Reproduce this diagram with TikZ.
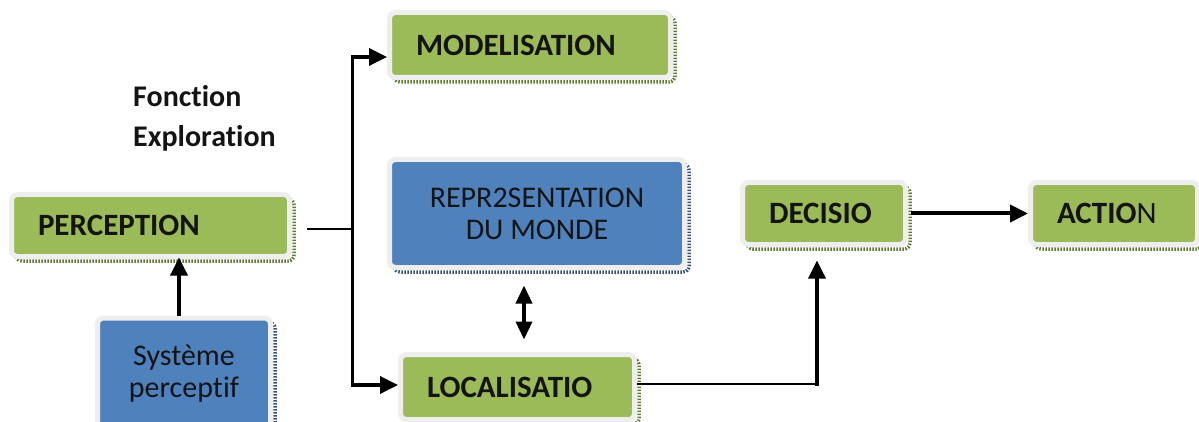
\documentclass[tikz,border=0pt]{standalone}
\usepackage{fontspec}
\setmainfont{Carlito}[Ligatures={NoCommon}]
\usetikzlibrary{arrows.meta}
\definecolor{boxgreen}{HTML}{9BBB59}
\definecolor{boxblue}{HTML}{4F81BD}
\definecolor{framegray}{HTML}{EEEEEE}
\definecolor{shadegreen}{HTML}{5E7A2E}
\definecolor{shadeblue}{HTML}{34507A}
\definecolor{ink}{HTML}{141414}

\begin{document}
\begin{tikzpicture}[x=1pt,y=-1pt,
  boxbase/.style={rectangle, rounded corners=6pt, draw=framegray,
    line width=5pt, text=ink, inner ysep=0pt},
  greenbox/.style={boxbase, fill=boxgreen,
    preaction={draw=shadegreen, fill=none, line width=3.5pt,
      dash pattern=on 1.5pt off 1.5pt, transform canvas={shift={(4.5pt,-4.5pt)}}},
    font=\fontsize{31}{34}\selectfont\bfseries, align=left, inner xsep=26.5pt},
  bluebox/.style={boxbase, fill=boxblue,
    preaction={draw=shadeblue, fill=none, line width=3.5pt,
      dash pattern=on 1.5pt off 1.5pt, transform canvas={shift={(4.5pt,-4.5pt)}}},
    font=\fontsize{30}{32}\selectfont, align=center},
  thinlink/.style={line width=1.6pt, draw=black},
  link/.style={line width=3.5pt, draw=black},
  tip/.style={-{Triangle[length=18pt,width=17pt]}},
  twotips/.style={{Triangle[length=18pt,width=16pt]}-{Triangle[length=18pt,width=16pt]}}
]
\useasboundingbox (0,0) rectangle (1199,422);

% boxes
\node[greenbox, text width=225pt, minimum height=62pt] (perc) at (150.5,225.5) {PERCEPTION};
\node[greenbox, text width=228pt, minimum height=65pt] (mod) at (530,45) {MODELISATION};
\node[greenbox, text width=181pt, minimum height=65pt] (loc) at (517.5,387) {LOCALISATIO};
\node[greenbox, text width=110pt, minimum height=62pt] (dec) at (824,213.5) {DECISIO};
\node[greenbox, text width=114pt, minimum height=62pt] (act) at (1114,213.5) {ACTIO\mdseries N};
\node[bluebox, minimum width=295pt, minimum height=108pt] (repr) at (537,213.5) {REPR2SENTATION\\DU MONDE};
\node[bluebox, minimum width=173pt, minimum height=112pt, anchor=north] (sys) at (184,315.5) {Système\\perceptif};

% caption
\node[font=\fontsize{30}{40}\selectfont\bfseries, text=ink, align=left,
  anchor=west, inner sep=0pt] (title) at (133,118) {Fonction\\Exploration};

% branching from PERCEPTION
\coordinate (jn) at (352,229);
\coordinate (jtop) at (352,57);
\coordinate (jbot) at (352,385);
\draw[thinlink, shorten <=15pt] (perc.east |- jn) -- (jn);
\draw[line width=3pt, line cap=rect] (jtop) -- (jbot);
\draw[link, tip] (jtop) -- (jtop -| mod.west);
\draw[link, tip] (jbot) -- (jbot -| loc.west);

% sensing system feeds perception
\coordinate (sx) at (179,300);
\draw[link, tip, shorten >=-1.5pt] (sys.north -| sx) -- (perc.south -| sx);

% world model <-> localisation
\coordinate (dx) at (524,300);
\draw[link, twotips, shorten <=15.5pt, shorten >=12.5pt] (repr.south -| dx) -- (loc.north -| dx);

% localisation -> decision -> action
\coordinate (lc) at (817,384);
\draw[line width=2pt] (loc.east |- lc) -- (lc);
\draw[link, tip, line cap=rect, shorten >=13.5pt] (lc) -- (lc |- dec.south);
\draw[line width=4pt, tip, shorten <=2.5pt] (dec.east) -- (act.west);

\end{tikzpicture}
\end{document}
